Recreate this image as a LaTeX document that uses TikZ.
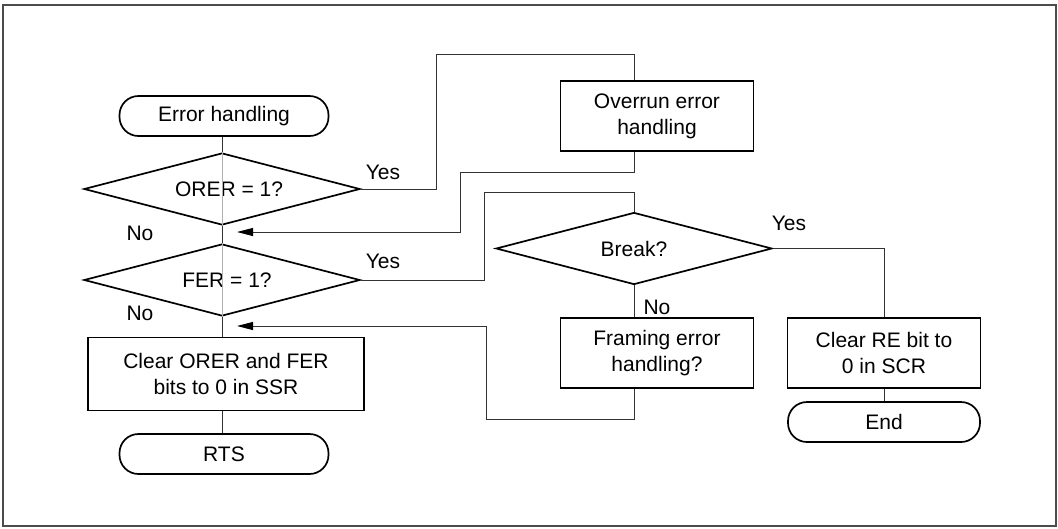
\documentclass[tikz,border=0pt]{standalone}
\usepackage{fontspec}
\setmainfont{Liberation Sans}
\usetikzlibrary{shapes.geometric,arrows.meta,calc}
\begin{document}
\begin{tikzpicture}[x=1pt,y=-1pt,
 every node/.style={font=\fontsize{21}{26}\selectfont},
 box/.style={draw=black,line width=1.7pt,rectangle,minimum width=193pt,minimum height=70pt,align=center,inner sep=0pt},
 term/.style={draw=black,line width=1.7pt,rectangle,rounded corners=19pt,minimum width=209pt,minimum height=40pt,inner sep=0pt},
 dec/.style={draw=black,line width=1.7pt,diamond,aspect=3.8,minimum width=276pt,minimum height=72pt,inner sep=0pt},
 conn/.style={draw=black!80,line width=1pt},
 thru/.style={draw=black!30,line width=0.6pt},
 arr/.style={conn,-{Triangle[length=16pt,width=8pt,color=black,fill=black]}},
 lbl/.style={inner sep=0pt}]
\useasboundingbox (0,0) rectangle (1058,528);
\draw[draw=black!70,line width=1.8pt] (3,5) rectangle (1056,526);

% nodes
\node[term] (eh) at (224,116) {Error handling};
\node[dec] (orer) at (222,189) {\hspace*{14pt}ORER = 1?};
\node[box] (ovr) at (657,116) {Overrun error\\handling};
\node[dec] (fer) at (222,280) {\hspace*{10pt}FER = 1?};
\node[dec] (brk) at (634,248.5) {Break?};
\node[box] (frm) at (657,353) {Framing error\\handling?};
\node[box,minimum width=276pt,minimum height=73pt] (clr) at (226,374) {Clear ORER and FER\\bits to 0 in SSR};
\node[box] (cre) at (884,353) {Clear RE bit to\\0 in SCR};
\node[term] (rts) at (224,454) {RTS};
\node[term,minimum width=192pt] (end) at (884,422) {End};

% labels
\node[lbl] (yes1) at (383,172) {Yes};
\node[lbl] (no1) at (140,233) {No};
\node[lbl] (yes2) at (383,261) {Yes};
\node[lbl] (no2) at (140,313) {No};
\node[lbl] (yes3) at (789,223) {Yes};
\node[lbl] (no3) at (657,307) {No};

% coordinates
\coordinate (c1) at (436,54);
\coordinate (r1) at (460,172);
\coordinate (t1) at (237,232);
\coordinate (c2) at (484,192);
\coordinate (r2) at (486,419);
\coordinate (t2) at (237,326);

% main column
\draw[conn] (eh.south -| orer.north) -- (orer.north);
\draw[thru] (orer.north) -- (orer.south);
\draw[conn] (orer.south) -- (fer.north);
\draw[thru] (fer.north) -- (fer.south);
\draw[conn] (fer.south) -- (fer.south |- clr.north);
\draw[conn] (fer.south |- clr.south) -- (fer.south |- rts.north);

% ORER yes branch
\draw[conn] (orer.east) -| (c1) -| (brk.north |- ovr.north);
\draw[arr] (brk.north |- ovr.south) |- (r1) |- (t1);

% FER yes branch
\draw[conn] (fer.east) -| (c2) -| (brk.north);
\draw[conn] (brk.south) -- (brk.south |- frm.north);
\draw[arr] (brk.south |- frm.south) |- (r2) |- (t2);
\draw[conn] (brk.east) -| (cre.north);
\draw[conn] (cre.south) -- (end.north);
\end{tikzpicture}
\end{document}
